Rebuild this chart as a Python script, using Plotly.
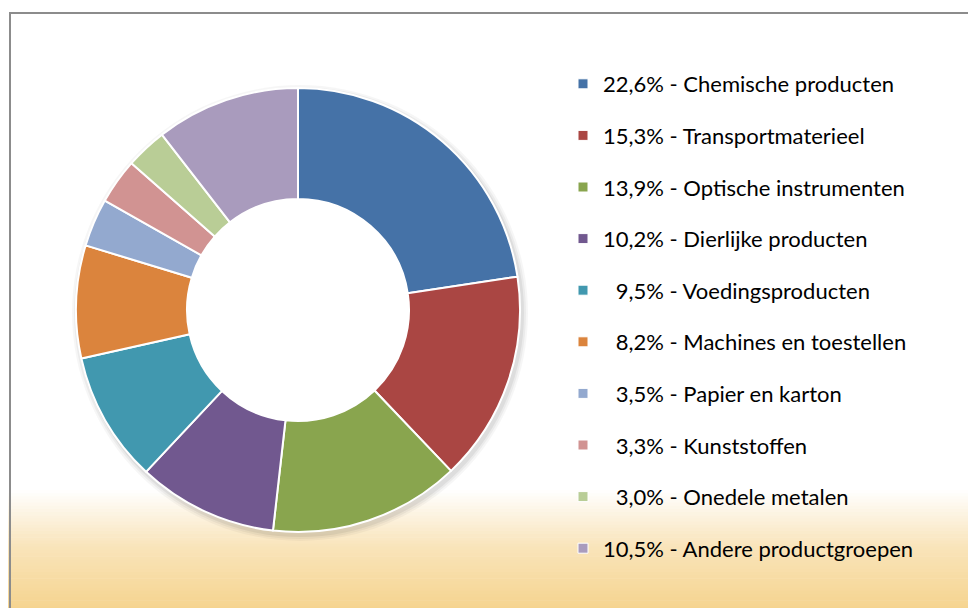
import plotly.graph_objects as go

categories = ["Chemische producten", "Transportmaterieel", "Optische instrumenten",
              "Dierlijke producten", "Voedingsproducten", "Machines en toestellen",
              "Papier en karton", "Kunststoffen", "Onedele metalen", "Andere productgroepen"]
shares = [22.6, 15.3, 13.9, 10.2, 9.5, 8.2, 3.5, 3.3, 3.0, 10.5]
colors = ["#4572A7", "#AA4643", "#89A54E", "#71588F", "#4198AF",
          "#DB843D", "#93A9CF", "#D19392", "#B9CD96", "#A99BBD"]

W, H = 976, 608
OFF = 8  # page body margin

def fmt(v):
    s = f"{v:.1f}".replace(".", ",") + "%"
    if v < 10:
        s = "\u2007" + s
    return s

legend_labels = [f"{fmt(v)} - {c}" for v, c in zip(shares, categories)]

cx, cy, R, r = 298 - OFF, 310 - OFF, 222, 111

fig = go.Figure()

fig.add_trace(go.Pie(
    labels=categories, values=shares, sort=False, direction="clockwise",
    rotation=0, hole=0.5, textinfo="none", hoverinfo="label+percent",
    marker=dict(colors=colors, line=dict(color="white", width=2)),
    showlegend=False,
    domain=dict(x=[(cx - R) / W, (cx + R) / W],
                y=[1 - (cy + R) / H, 1 - (cy - R) / H]),
))

for lab, col in zip(legend_labels, colors):
    fig.add_trace(go.Scatter(
        x=[None], y=[None], mode="markers", name=lab, legendgroup=lab,
        marker=dict(symbol="square", size=10, color=col,
                    line=dict(color="white", width=1)),
        hoverinfo="skip",
    ))

shapes = []
# background gradient (style only)
y0, y1 = 482, H
stops = [(0.0, (255, 255, 255)), (0.45, (249, 228, 186)), (1.0, (245, 210, 138))]
n = 40
def interp(t):
    for (ta, ca), (tb, cb) in zip(stops[:-1], stops[1:]):
        if ta <= t <= tb:
            f = (t - ta) / (tb - ta)
            return tuple(round(a + (b - a) * f) for a, b in zip(ca, cb))
    return stops[-1][1]
for i in range(n):
    ya = y0 + (y1 - y0) * i / n
    yb = y0 + (y1 - y0) * (i + 1) / n + 0.6
    c = interp((i + 0.5) / n)
    shapes.append(dict(type="rect", xref="paper", yref="paper", layer="below",
                       x0=0, x1=1, y0=1 - yb / H, y1=1 - ya / H,
                       line=dict(width=0), fillcolor=f"rgb{c}"))
# soft pie shadow (stacked translucent circles)
for grow, alpha in [(6, 0.035), (4, 0.045), (2, 0.06)]:
    shapes.append(dict(type="circle", xref="paper", yref="paper", layer="below",
                       x0=(cx - R - grow + 2) / W, x1=(cx + R + grow + 2) / W,
                       y0=1 - (cy + R + grow + 3) / H, y1=1 - (cy - R - grow + 3) / H,
                       line=dict(width=0), fillcolor=f"rgba(0,0,0,{alpha})"))
shapes.append(dict(type="circle", xref="paper", yref="paper", layer="below",
                   x0=(cx - r) / W, x1=(cx + r) / W,
                   y0=1 - (cy + r) / H, y1=1 - (cy - r) / H,
                   line=dict(width=0), fillcolor="white"))
# chart border
shapes.append(dict(type="rect", xref="paper", yref="paper", layer="above",
                   x0=(10 - OFF) / W, x1=1.05, y0=-0.05, y1=1 - (13 - OFF) / H,
                   line=dict(color="#8c8c8c", width=2), fillcolor="rgba(0,0,0,0)"))

fig.update_layout(
    width=W, height=H, margin=dict(l=0, r=0, t=0, b=0),
    paper_bgcolor="white", plot_bgcolor="rgba(0,0,0,0)",
    xaxis=dict(visible=False), yaxis=dict(visible=False),
    shapes=shapes,
    font=dict(family="Lato, Carlito, Calibri, sans-serif", color="#000000"),
    legend=dict(x=(583 - OFF - 20) / W, y=1 - 55 / H, xanchor="left", yanchor="top",
                bgcolor="rgba(0,0,0,0)", font=dict(size=22, color="#000000"),
                tracegroupgap=20, itemclick=False, itemdoubleclick=False),
)

fig.write_html("out.html")
